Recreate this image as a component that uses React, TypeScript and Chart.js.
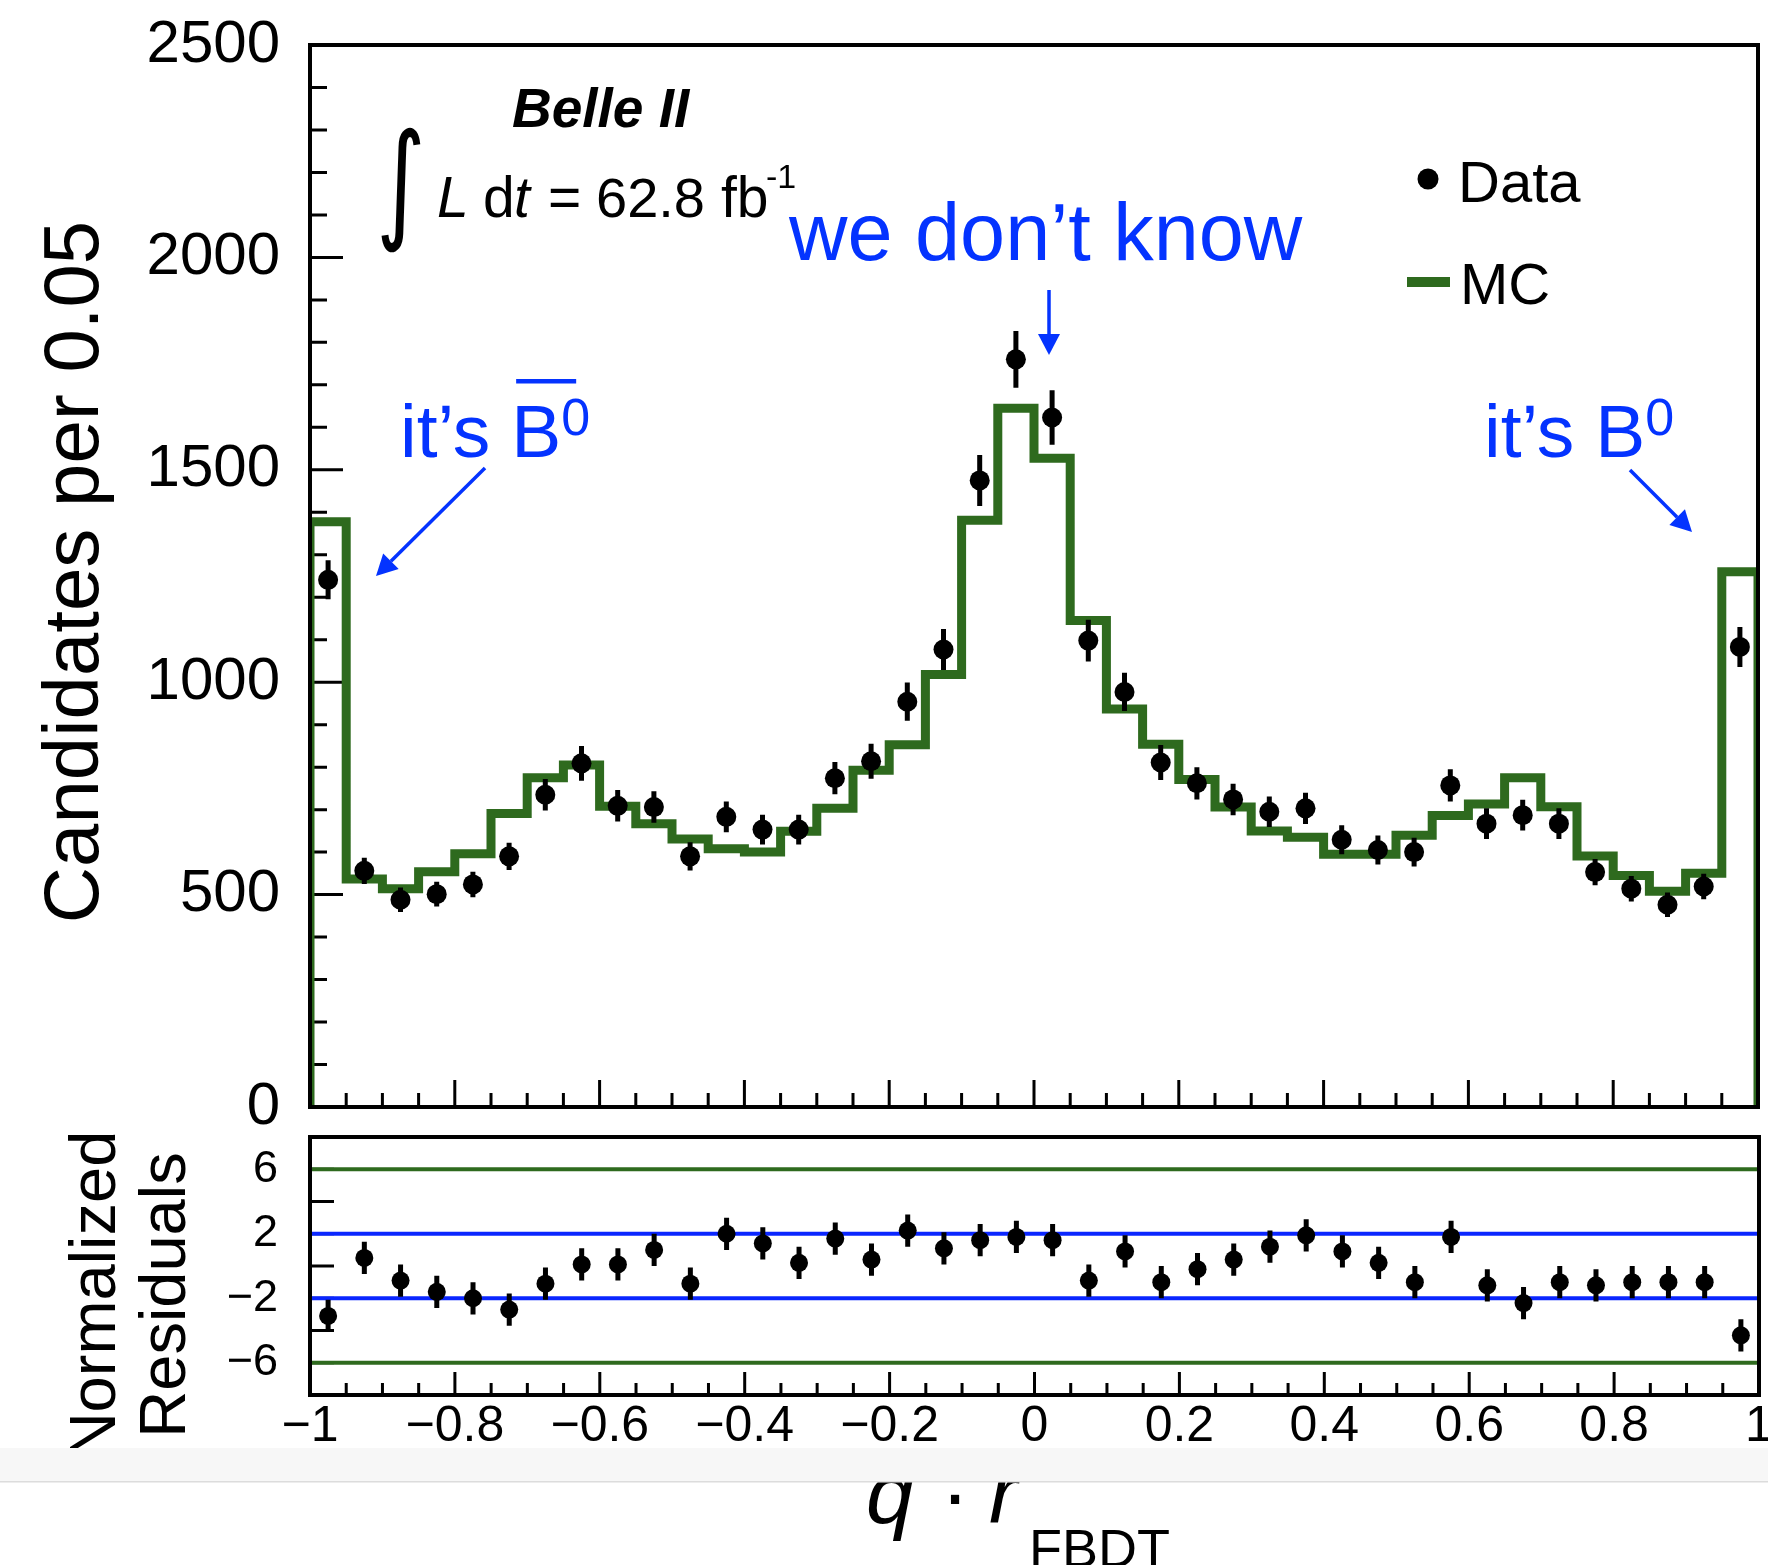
import { useEffect, useRef } from 'react';
import { Chart, registerables } from 'chart.js';

Chart.register(...registerables);

// ---------------- binning and counts ----------------
const BIN_WIDTH = 0.05;
const BIN_CENTERS = [
  -0.975, -0.925, -0.875, -0.825, -0.775, -0.725, -0.675, -0.625, -0.575, -0.525,
  -0.475, -0.425, -0.375, -0.325, -0.275, -0.225, -0.175, -0.125, -0.075, -0.025,
  0.025, 0.075, 0.125, 0.175, 0.225, 0.275, 0.325, 0.375, 0.425, 0.475,
  0.525, 0.575, 0.625, 0.675, 0.725, 0.775, 0.825, 0.875, 0.925, 0.975,
];
const DATA_COUNTS = [
  1241, 556, 488, 501, 524, 590, 735, 809, 709, 706,
  590, 683, 653, 653, 774, 814, 954, 1077, 1475, 1760,
  1623, 1098, 977, 811, 762, 724, 695, 703, 629, 605,
  600, 757, 667, 687, 667, 553, 514, 476, 519, 1083,
];
const DATA_ERRORS = [
  46, 31, 29, 29, 30, 32, 37, 41, 37, 37,
  33, 36, 35, 35, 38, 41, 45, 48, 60, 67,
  64, 49, 45, 41, 38, 37, 36, 37, 34, 34,
  34, 38, 36, 36, 36, 31, 30, 29, 30, 47,
];
const MC_COUNTS = [
  1378, 537, 514, 554, 596, 691, 775, 805, 708, 667,
  631, 608, 600, 649, 703, 793, 853, 1018, 1381, 1645,
  1527, 1145, 937, 854, 771, 706, 650, 635, 595, 595,
  640, 686, 713, 775, 707, 591, 545, 508, 550, 1260,
];
const RESIDUALS = [
  -3.1, 0.5, -0.9, -1.6, -2.0, -2.7, -1.1, 0.1, 0.1, 1.0,
  -1.1, 2.0, 1.4, 0.2, 1.7, 0.4, 2.2, 1.1, 1.6, 1.8,
  1.6, -0.9, 0.9, -1.0, -0.2, 0.4, 1.2, 1.9, 0.9, 0.2,
  -1.0, 1.8, -1.2, -2.3, -1.0, -1.2, -1.0, -1.0, -1.0, -4.3,
];
// normalized residuals carry unit uncertainty
const RESIDUAL_ERROR = 1;

// ---------------- axes ----------------
const X_MIN = -1;
const X_MAX = 1;
const COUNT_MIN = 0;
const COUNT_MAX = 2500;
const RES_MIN = -8;
const RES_MAX = 8;
const COUNT_TICKS = [0, 500, 1000, 1500, 2000, 2500];
const COUNT_TICK_LABELS = ['0', '500', '1000', '1500', '2000', '2500'];
const RES_TICKS = [-6, -2, 2, 6];
const RES_TICK_LABELS = ['\u22126', '\u22122', '2', '6'];
const X_TICKS = [-1, -0.8, -0.6, -0.4, -0.2, 0, 0.2, 0.4, 0.6, 0.8, 1];
const X_TICK_LABELS = [
  '\u22121', '\u22120.8', '\u22120.6', '\u22120.4', '\u22120.2', '0', '0.2', '0.4', '0.6', '0.8', '1',
];
const GREEN_LEVELS = [6, -6];
const BLUE_LEVELS = [2, -2];

// ---------------- style ----------------
const FONT = '"Liberation Sans", Arial, Helvetica, sans-serif';
const GREEN = '#2e6a1e';
const NOTE_BLUE = '#0433ff';
const LINE_BLUE = '#0a26ff';

const PAGE_W = 1768;
const PAGE_H = 1565;
const TOP_H = 1147;
const BOT_TOP = 1112;
const BOT_H = PAGE_H - BOT_TOP;
const BAND_TOP = 1448 - BOT_TOP;
const BAND_LINE = 1482 - BOT_TOP;

type Piece = { t: string; font: string; dy?: number };

function drawRun(ctx: CanvasRenderingContext2D, pieces: Piece[], x: number, y: number) {
  const starts: number[] = [];
  for (const p of pieces) {
    ctx.font = p.font;
    starts.push(x);
    ctx.fillText(p.t, x, y + (p.dy || 0));
    x += ctx.measureText(p.t).width;
  }
  starts.push(x);
  return starts;
}

function vText(ctx: CanvasRenderingContext2D, s: string, x: number, cy: number, font: string) {
  ctx.save();
  ctx.translate(x, cy);
  ctx.rotate(-Math.PI / 2);
  ctx.font = font;
  ctx.textAlign = 'center';
  ctx.textBaseline = 'alphabetic';
  ctx.fillText(s, 0, 0);
  ctx.restore();
}

function arrow(
  ctx: CanvasRenderingContext2D,
  x1: number, y1: number, x2: number, y2: number,
  head = 21, halfW = 11,
) {
  const ang = Math.atan2(y2 - y1, x2 - x1);
  const bx = x2 - head * Math.cos(ang);
  const by = y2 - head * Math.sin(ang);
  ctx.beginPath();
  ctx.moveTo(x1, y1);
  ctx.lineTo(bx, by);
  ctx.stroke();
  ctx.beginPath();
  ctx.moveTo(x2, y2);
  ctx.lineTo(bx + halfW * Math.sin(ang), by - halfW * Math.cos(ang));
  ctx.lineTo(bx - halfW * Math.sin(ang), by + halfW * Math.cos(ang));
  ctx.closePath();
  ctx.fill();
}

function xTickMarks(ctx: CanvasRenderingContext2D, xs: any, bottom: number, major: number, minor: number) {
  const n = Math.round((X_MAX - X_MIN) / BIN_WIDTH);
  for (let i = 0; i <= n; i++) {
    const px = xs.getPixelForValue(X_MIN + i * BIN_WIDTH);
    const len = i % 4 === 0 ? major : minor;
    ctx.moveTo(px, bottom);
    ctx.lineTo(px, bottom - len);
  }
}

// ---------------- upper panel decorations ----------------
const upperDecor = {
  id: 'upperDecor',
  beforeDatasetsDraw(chart: any) {
    const { ctx, chartArea: a, scales } = chart;
    ctx.save();
    ctx.strokeStyle = '#000';
    ctx.lineWidth = 3;
    ctx.beginPath();
    for (let v = COUNT_MIN; v <= COUNT_MAX; v += 100) {
      const py = scales.y.getPixelForValue(v);
      const len = v % 500 === 0 ? 33 : 17;
      ctx.moveTo(a.left, py);
      ctx.lineTo(a.left + len, py);
    }
    xTickMarks(ctx, scales.x, a.bottom, 27, 14);
    ctx.stroke();
    ctx.restore();
  },
  afterDatasetsDraw(chart: any) {
    const { ctx, chartArea: a, scales } = chart;
    ctx.save();
    ctx.strokeStyle = '#000';
    ctx.lineWidth = 5;
    ctx.beginPath();
    BIN_CENTERS.forEach((c, i) => {
      const px = scales.x.getPixelForValue(c);
      ctx.moveTo(px, scales.y.getPixelForValue(DATA_COUNTS[i] - DATA_ERRORS[i]));
      ctx.lineTo(px, scales.y.getPixelForValue(DATA_COUNTS[i] + DATA_ERRORS[i]));
    });
    ctx.stroke();
    ctx.lineWidth = 4;
    ctx.lineJoin = 'miter';
    ctx.strokeRect(a.left, a.top, a.right - a.left, a.bottom - a.top);
    ctx.restore();
  },
  afterDraw(chart: any) {
    const { ctx } = chart;
    ctx.save();
    ctx.fillStyle = '#000';
    ctx.textBaseline = 'alphabetic';
    ctx.textAlign = 'left';

    // y-axis title
    vText(ctx, 'Candidates per 0.05', 98, 572, `78px ${FONT}`);

    // experiment label
    ctx.font = `italic bold 55px ${FONT}`;
    ctx.fillText('Belle II', 512, 127);

    // luminosity
    ctx.save();
    ctx.font = `100px "DejaVu Sans", "Liberation Sans", sans-serif`;
    const m = ctx.measureText('\u222B');
    const gh = m.actualBoundingBoxAscent + m.actualBoundingBoxDescent;
    const gw = m.actualBoundingBoxLeft + m.actualBoundingBoxRight;
    ctx.translate(381, 127);
    ctx.scale(40 / gw, 126 / gh);
    ctx.fillText('\u222B', m.actualBoundingBoxLeft, m.actualBoundingBoxAscent);
    ctx.restore();
    const lum: [string, string, number, number][] = [
      ['L', `italic 57px ${FONT}`, 437, 217],
      ['d', `57px ${FONT}`, 483, 217],
      ['t', `italic 57px ${FONT}`, 514, 217],
      ['=', `57px ${FONT}`, 548, 217],
      ['62.8', `56px ${FONT}`, 596, 217],
      ['fb', `57px ${FONT}`, 721, 217],
      ['-1', `34px ${FONT}`, 766, 188],
    ];
    lum.forEach(([t, f, x, y]) => {
      ctx.font = f;
      ctx.fillText(t, x, y);
    });

    // legend
    ctx.beginPath();
    ctx.arc(1428, 179, 10.5, 0, Math.PI * 2);
    ctx.fill();
    ctx.font = `58px ${FONT}`;
    ctx.fillText('Data', 1458, 202);
    ctx.fillStyle = GREEN;
    ctx.fillRect(1407, 277, 43, 10);
    ctx.fillStyle = '#000';
    ctx.fillText('MC', 1460, 304);

    // annotations
    ctx.fillStyle = NOTE_BLUE;
    ctx.strokeStyle = NOTE_BLUE;
    ctx.font = `81px ${FONT}`;
    ctx.fillText('we don\u2019t know', 789, 260);

    const left = drawRun(ctx, [
      { t: 'it\u2019s ', font: `75px ${FONT}` },
      { t: 'B', font: `75px ${FONT}` },
      { t: '0', font: `52px ${FONT}`, dy: -22 },
    ], 400, 457);
    ctx.fillRect(left[1] + 5, 379, left[2] - left[1] + 10, 4.5);

    drawRun(ctx, [
      { t: 'it\u2019s ', font: `75px ${FONT}` },
      { t: 'B', font: `75px ${FONT}` },
      { t: '0', font: `52px ${FONT}`, dy: -22 },
    ], 1484, 457);

    ctx.lineWidth = 3.5;
    arrow(ctx, 485, 468, 376, 576);
    arrow(ctx, 1630, 470, 1692, 532);
    arrow(ctx, 1049, 290, 1049, 355);
    ctx.restore();
  },
};

// ---------------- residual panel decorations ----------------
const lowerDecor = {
  id: 'lowerDecor',
  beforeDatasetsDraw(chart: any) {
    const { ctx, chartArea: a, scales } = chart;
    ctx.save();
    ctx.strokeStyle = '#000';
    ctx.lineWidth = 3;
    ctx.beginPath();
    for (let v = -6; v <= 6; v += 2) {
      const py = scales.y.getPixelForValue(v);
      ctx.moveTo(a.left, py);
      ctx.lineTo(a.left + 24, py);
    }
    xTickMarks(ctx, scales.x, a.bottom, 23, 12);
    ctx.stroke();
    ctx.restore();
  },
  afterDatasetsDraw(chart: any) {
    const { ctx, chartArea: a, scales } = chart;
    ctx.save();
    ctx.strokeStyle = '#000';
    ctx.lineWidth = 5;
    ctx.beginPath();
    BIN_CENTERS.forEach((c, i) => {
      const px = scales.x.getPixelForValue(c);
      ctx.moveTo(px, scales.y.getPixelForValue(RESIDUALS[i] - RESIDUAL_ERROR));
      ctx.lineTo(px, scales.y.getPixelForValue(RESIDUALS[i] + RESIDUAL_ERROR));
    });
    ctx.stroke();
    ctx.lineWidth = 4;
    ctx.strokeRect(a.left, a.top, a.right - a.left, a.bottom - a.top);
    ctx.restore();
  },
  afterDraw(chart: any) {
    const { ctx, width, height } = chart;
    ctx.save();
    ctx.fillStyle = '#000';

    // y-axis title, cut by the strip below
    ctx.save();
    ctx.beginPath();
    ctx.rect(0, 0, width, BAND_TOP);
    ctx.clip();
    vText(ctx, 'Normalized', 115, 1295 - BOT_TOP, `65px ${FONT}`);
    vText(ctx, 'Residuals', 185, 1295 - BOT_TOP, `65px ${FONT}`);
    ctx.restore();

    // strip separating the axis title
    ctx.fillStyle = '#f7f7f7';
    ctx.fillRect(0, BAND_TOP, width, BAND_LINE - BAND_TOP);
    ctx.fillStyle = '#dcdcdc';
    ctx.fillRect(0, BAND_LINE - 1, width, 1.5);

    // x-axis title
    ctx.beginPath();
    ctx.rect(0, BAND_LINE + 0.5, width, height);
    ctx.clip();
    ctx.fillStyle = '#000';
    ctx.textBaseline = 'alphabetic';
    const base = 1523 - BOT_TOP;
    ctx.font = `italic 86px ${FONT}`;
    ctx.textAlign = 'left';
    ctx.fillText('q', 866, base);
    ctx.font = `86px ${FONT}`;
    ctx.textAlign = 'center';
    ctx.fillText('\u00B7', 955, base);
    ctx.font = `italic 86px ${FONT}`;
    ctx.textAlign = 'left';
    ctx.fillText('r', 989, base);
    ctx.font = `54px ${FONT}`;
    ctx.fillText('FBDT', 1029, 1567 - BOT_TOP);
    ctx.restore();
  },
};

function upperConfig(): any {
  const mcSteps: { x: number; y: number }[] = [{ x: X_MIN, y: 0 }];
  BIN_CENTERS.forEach((c, i) => mcSteps.push({ x: c - BIN_WIDTH / 2, y: MC_COUNTS[i] }));
  mcSteps.push({ x: X_MAX, y: MC_COUNTS[MC_COUNTS.length - 1] });
  mcSteps.push({ x: X_MAX, y: 0 });

  return {
    type: 'scatter',
    data: {
      datasets: [
        {
          label: 'Data',
          data: BIN_CENTERS.map((c, i) => ({ x: c, y: DATA_COUNTS[i] })),
          pointRadius: 10,
          pointBackgroundColor: '#000',
          pointBorderWidth: 0,
          showLine: false,
          order: 0,
        },
        {
          label: 'MC',
          data: mcSteps,
          showLine: true,
          stepped: true,
          borderColor: GREEN,
          borderWidth: 9,
          borderJoinStyle: 'miter',
          borderCapStyle: 'butt',
          pointRadius: 0,
          fill: false,
          clip: 0,
          order: 1,
        },
      ],
    },
    options: {
      responsive: false,
      animation: false,
      devicePixelRatio: 1,
      events: [],
      layout: { padding: { top: 45, right: 8, bottom: 40, left: 0 } },
      plugins: { legend: { display: false }, tooltip: { enabled: false } },
      scales: {
        x: { type: 'linear', min: X_MIN, max: X_MAX, display: false },
        y: {
          type: 'linear',
          min: COUNT_MIN,
          max: COUNT_MAX,
          grid: { display: false, drawTicks: false },
          border: { display: false },
          ticks: {
            color: '#000',
            padding: 30,
            font: { family: FONT, size: 60 },
            callback: (_v: any, i: number) => COUNT_TICK_LABELS[i],
          },
          afterBuildTicks: (s: any) => { s.ticks = COUNT_TICKS.map((v) => ({ value: v })); },
          afterFit: (s: any) => { s.width = 310; s.paddingTop = 0; s.paddingBottom = 0; },
        },
      },
    },
    plugins: [upperDecor],
  };
}

function lowerConfig(): any {
  const level = (v: number, color: string) => ({
    data: [{ x: X_MIN, y: v }, { x: X_MAX, y: v }],
    showLine: true,
    borderColor: color,
    borderWidth: 4,
    pointRadius: 0,
    fill: false,
    order: 1,
  });
  return {
    type: 'scatter',
    data: {
      datasets: [
        {
          label: 'Residuals',
          data: BIN_CENTERS.map((c, i) => ({ x: c, y: RESIDUALS[i] })),
          pointRadius: 9,
          pointBackgroundColor: '#000',
          pointBorderWidth: 0,
          showLine: false,
          order: 0,
        },
        ...GREEN_LEVELS.map((v) => level(v, GREEN)),
        ...BLUE_LEVELS.map((v) => level(v, LINE_BLUE)),
      ],
    },
    options: {
      responsive: false,
      animation: false,
      devicePixelRatio: 1,
      events: [],
      layout: { padding: { top: 1137 - BOT_TOP, right: 8, bottom: 0, left: 0 } },
      plugins: { legend: { display: false }, tooltip: { enabled: false } },
      scales: {
        x: {
          type: 'linear',
          min: X_MIN,
          max: X_MAX,
          grid: { display: false, drawTicks: false },
          border: { display: false },
          ticks: {
            color: '#000',
            padding: 2,
            autoSkip: false,
            maxRotation: 0,
            font: { family: FONT, size: 50 },
            callback: (_v: any, i: number) => X_TICK_LABELS[i],
          },
          afterBuildTicks: (s: any) => { s.ticks = X_TICKS.map((v) => ({ value: v })); },
          afterFit: (s: any) => {
            s.height = BOT_H - (1395 - BOT_TOP);
            s.paddingLeft = 0;
            s.paddingRight = 0;
          },
        },
        y: {
          type: 'linear',
          min: RES_MIN,
          max: RES_MAX,
          grid: { display: false, drawTicks: false },
          border: { display: false },
          ticks: {
            color: '#000',
            padding: 32,
            font: { family: FONT, size: 45 },
            callback: (_v: any, i: number) => RES_TICK_LABELS[i],
          },
          afterBuildTicks: (s: any) => { s.ticks = RES_TICKS.map((v) => ({ value: v })); },
          afterFit: (s: any) => { s.width = 310; s.paddingTop = 0; s.paddingBottom = 0; },
        },
      },
    },
    plugins: [lowerDecor],
  };
}

export default function App() {
  const upperRef = useRef<HTMLCanvasElement>(null);
  const lowerRef = useRef<HTMLCanvasElement>(null);

  useEffect(() => {
    const upper = new Chart(upperRef.current as HTMLCanvasElement, upperConfig());
    const lower = new Chart(lowerRef.current as HTMLCanvasElement, lowerConfig());
    return () => {
      upper.destroy();
      lower.destroy();
    };
  }, []);

  return (
    <div
      style={{
        position: 'absolute',
        left: 0,
        top: 0,
        width: PAGE_W,
        height: PAGE_H,
        background: '#fff',
        overflow: 'hidden',
      }}
    >
      <canvas
        ref={upperRef}
        width={PAGE_W}
        height={TOP_H}
        style={{ position: 'absolute', left: 0, top: 0, width: PAGE_W, height: TOP_H }}
      />
      <canvas
        ref={lowerRef}
        width={PAGE_W}
        height={BOT_H}
        style={{ position: 'absolute', left: 0, top: BOT_TOP, width: PAGE_W, height: BOT_H }}
      />
    </div>
  );
}
